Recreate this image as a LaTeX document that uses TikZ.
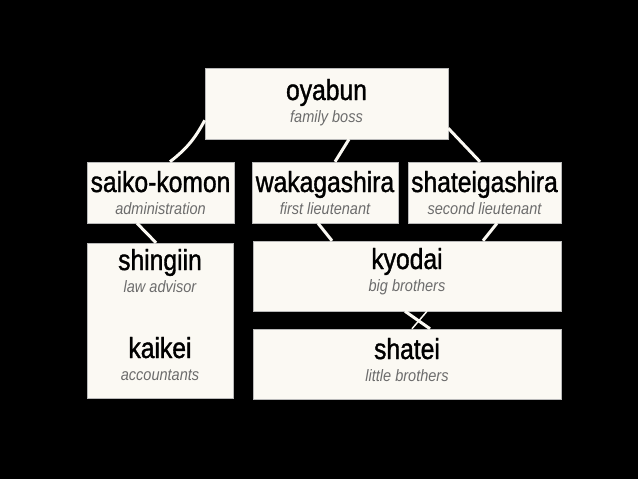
\documentclass[tikz,border=0pt]{standalone}
\usepackage{fontspec}
\setmainfont{Liberation Sans}[FakeStretch=0.85]
\newfontfamily\rankfont{Liberation Sans}[FakeStretch=0.85,FakeBold=1.2]
\newfontfamily\rolefont{Liberation Sans}[FakeStretch=0.88]
\definecolor{paper}{HTML}{FBF9F3}
\definecolor{subgray}{HTML}{6C6C6C}

\begin{document}
\begin{tikzpicture}[x=1pt,y=-1pt,
  box/.style={fill=paper,draw=gray!55,line width=0.5pt,inner sep=0pt},
  rank/.style={anchor=base,inner sep=0pt,font=\rankfont\fontsize{29}{30}\selectfont},
  role/.style={anchor=base,inner sep=0pt,text=subgray,font=\rolefont\fontsize{16.5}{17}\selectfont\itshape},
  link/.style={draw=paper,line width=3pt}]
\fill[black] (0,0) rectangle (638,479);
% boxes
\foreach \name/\x/\y/\w/\h in {oyabun/326.5/103.5/243/71, saiko/160.5/192.5/147/61,
    waka/325/192.5/146/61, shategashi/484.5/192.5/153/61, shingiin/160/320.5/146/155,
    kyodai/407/276/308/70, shatei/407/364/308/70} {
  \node[box,minimum width=\w pt,minimum height=\h pt] (\name) at (\x,\y) {};
}
% titles and roles
\foreach \name/\x/\y/\txt/\sub in {oyabun/326.5/100/oyabun/family boss,
    saiko/160.5/192/saiko-komon/administration, waka/325/192/wakagashira/first lieutenant,
    shategashi/484.5/192/shateigashira/second lieutenant, shingiin/160/270/shingiin/law advisor,
    kaikei/160/358/kaikei/accountants, kyodai/407/269/kyodai/big brothers,
    shatei/407/359/shatei/little brothers} {
  \node[rank] (\name-rank) at (\x,\y) {\txt};
  \node[role] (\name-role) at (\x,\y+22) {\sub};
}
% connectors
\draw[link] ([yshift=19pt]oyabun.south west) to[bend left=12] ([xshift=9.5pt]saiko.north);
\draw[link] ([xshift=22.5pt]oyabun.south) -- ([xshift=10pt]waka.north);
\draw[link] ([yshift=11pt]oyabun.south east) -- ([xshift=-4.5pt]shategashi.north);
\draw[link] ([xshift=-23.5pt]saiko.south) -- ([xshift=-4pt]shingiin.north);
\draw[link] ([xshift=-7pt]waka.south) -- ([xshift=-75pt]kyodai.north);
\draw[link] ([xshift=12.5pt]shategashi.south) -- ([xshift=76pt]kyodai.north);
\draw[link] ([xshift=-2pt]kyodai.south) -- ([xshift=23pt]shatei.north);
\draw[link,line width=1.5pt] ([xshift=20pt]kyodai.south) -- ([xshift=5pt]shatei.north);
\end{tikzpicture}
\end{document}
